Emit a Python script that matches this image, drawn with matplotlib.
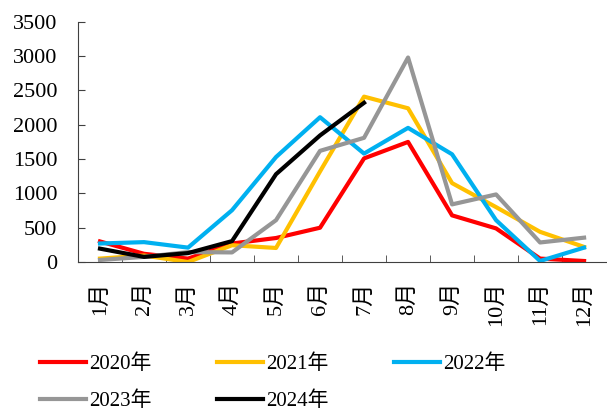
import matplotlib
matplotlib.use("Agg")
import matplotlib.pyplot as plt
import numpy as np

plt.rcParams['font.family'] = ['Liberation Serif', 'Noto Sans CJK SC']

months = ["1月", "2月", "3月", "4月", "5月", "6月", "7月", "8月", "9月", "10月", "11月", "12月"]

y2020 = [300, 120, 50, 270, 350, 500, 1510, 1750, 680, 490, 50, 15]
y2021 = [50, 95, 0, 245, 205, 1320, 2410, 2240, 1150, 800, 440, 220]
y2022 = [270, 290, 210, 755, 1530, 2110, 1580, 1955, 1570, 610, 15, 210]
y2023 = [30, 75, 145, 140, 610, 1620, 1810, 2980, 840, 985, 285, 355]
y2024 = [195, 75, 130, 305, 1280, 1845, 2320]

series = [
    ("2020年", y2020, "#FF0000"),
    ("2021年", y2021, "#FFC000"),
    ("2022年", y2022, "#00B0F0"),
    ("2023年", y2023, "#969696"),
    ("2024年", y2024, "#000000"),
]

fig = plt.figure(figsize=(6.07, 4.12), dpi=100)
ax = fig.add_axes([0.1285, 0.364, 0.87, 0.583])

lines = {}
for name, vals, color in series:
    lines[name], = ax.plot(np.arange(len(vals)), vals, color=color, lw=3, label=name)

ax.set_xlim(-0.5, 11.5)
ax.set_ylim(0, 3500)
ax.set_yticks(range(0, 3501, 500))
ax.set_xticks(range(12))
ax.set_xticklabels(months, rotation=90, fontsize=16)
ax.set_xticks(np.arange(0.5, 11.5, 1), minor=True)
ax.tick_params(axis='x', which='major', length=0, pad=14)
ax.tick_params(axis='x', which='minor', length=5, direction='in', color='#404040')
ax.tick_params(axis='y', length=5, direction='in', labelsize=16, color='#404040', pad=15)
for s in ["top", "right"]:
    ax.spines[s].set_visible(False)
ax.spines["left"].set_color('#404040')
ax.spines["bottom"].set_color('#404040')

# row-major order: 2020 2021 2022 / 2023 2024
order = ["2020年", "2023年", "2021年", "2024年", "2022年"]
fig.legend([lines[k] for k in order], order, loc='lower left',
           bbox_to_anchor=(0.066, 0.002), ncol=3, frameon=False,
           fontsize=15, handlelength=2.2, handletextpad=0.15, columnspacing=3.15,
           labelspacing=0.85, borderpad=0, borderaxespad=0)

fig.savefig("out.png", dpi=100)
